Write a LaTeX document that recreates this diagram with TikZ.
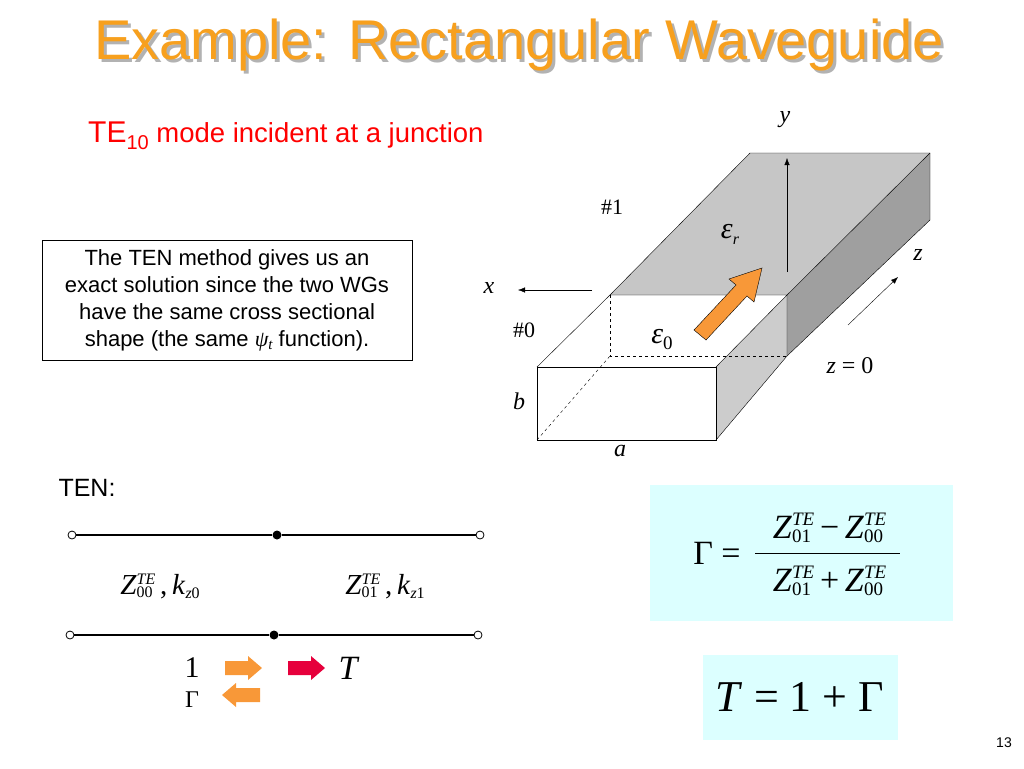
\documentclass[tikz,border=0pt]{standalone}
\usepackage{fontspec}
\setsansfont{Liberation Sans}
\setmainfont{Liberation Serif}
\usetikzlibrary{arrows.meta}
\definecolor{ttl}{RGB}{247,160,30}
\definecolor{org}{RGB}{248,152,56}
\definecolor{cy}{RGB}{220,255,255}
\definecolor{rd}{RGB}{230,0,60}
\newcommand\Zs[3]{\textit{Z}\rlap{\raisebox{#3pt}{\fontsize{#2}{#2}\selectfont\textit{TE}}}\raisebox{-0.35\height}{\fontsize{#2}{#2}\selectfont #1}}
\begin{document}
\begin{tikzpicture}[x=1pt,y=-1pt,
  lbl/.style={font=\fontsize{24}{28}\selectfont\itshape},
  rm/.style={font=\fontsize{22}{26}\selectfont},
  bar/.style={line width=2.5pt},
  term/.style={circle,draw,fill=white,inner sep=0pt,minimum size=8pt,thick},
  dotn/.style={circle,fill,inner sep=0pt,minimum size=9pt}]
\useasboundingbox (0,0) rectangle (1024,768);
% title
\node[text=gray!60,font=\sffamily\fontsize{56}{60}\selectfont] at (522,48) {Example: Rectangular Waveguide};
\node (title)[text=ttl,font=\sffamily\fontsize{56}{60}\selectfont] at (519,45) {Example: Rectangular Waveguide};
\node (te)[anchor=west,text=red,font=\sffamily\fontsize{30}{32}\selectfont,inner sep=0pt] at (88,136) {TE\raisebox{-7pt}{\fontsize{20}{20}\selectfont 10}\fontsize{27.5}{30}\selectfont{} mode incident at a junction};
% text box
\node (box)[draw,thin,align=center,font=\sffamily\fontsize{22}{27}\selectfont,minimum width=370pt,minimum height=120pt,inner sep=0pt] at (227,300)
 {The TEN method gives us an\\exact solution since the two WGs\\have the same cross sectional\\shape (the same \textit{\fontspec{Liberation Serif}ψ\raisebox{-3pt}{\fontsize{15}{15}\selectfont t}} function).};
% waveguide
\fill[gray!45] (610,295)--(787,295)--(930,153)--(750,153)--cycle;
\fill[gray!75] (787,295)--(930,153)--(930,220)--(787,356)--cycle;
\fill[gray!40] (716,367)--(787,295)--(787,356)--(716,440)--cycle;
\draw (610,295)--(750,153)--(930,153)--(930,220)--(787,356);
\draw (787,295)--(930,153);
\draw (537,367)--(610,295)--(787,295)--(716,367);
\draw (537,367) rectangle (716,440);
\draw (716,440)--(787,356)--(787,295);
\draw[dashed] (610,295)--(610,356)--(787,356);
\draw[dashed] (537,440)--(610,356);
\coordinate (y0) at (787,272); \coordinate (y1) at (787,158);
\draw[-{Latex[length=7pt]}] (y0)--(y1);
\coordinate (x0) at (592,290); \coordinate (x1) at (518,290);
\draw[-{Latex[length=7pt]}] (x0)--(x1);
\coordinate (z0) at (848,325); \coordinate (z1) at (898,277);
\draw[-{Latex[length=7pt]}] (z0)--(z1);
\draw[fill=org] (694,330)--(736,285)--(729,279)--(762,268)--(754,302)--(747,296)--(706,340)--cycle;
\node[lbl] at (785,120) {y};
\node[rm] at (612,207) {\#1};
\node[font=\fontsize{30}{34}\selectfont] at (730,234) {\textit{ε}\raisebox{-6pt}{\fontsize{16}{16}\selectfont\textit{r}}};
\node[lbl] at (918,255) {z};
\node[lbl] at (489,288) {x};
\node[rm] at (524,330) {\#0};
\node[font=\fontsize{30}{34}\selectfont] at (662,340) {\textit{ε}\raisebox{-6pt}{\fontsize{19}{19}\selectfont 0}};
\node[font=\fontsize{24}{28}\selectfont] at (850,366) {\textit{z} = 0};
\node[lbl] at (519,401) {b};
\node[lbl] at (620,451) {a};
% TEN
\node[font=\sffamily\fontsize{25}{28}\selectfont,anchor=west] (ten) at (55,488) {TEN:};
\node[term] (a1) at (72,535) {}; \node[dotn] (a2) at (277,535) {}; \node[term] (a3) at (480,535) {};
\node[term] (b1) at (70,635) {}; \node[dotn] (b2) at (274,635) {}; \node[term] (b3) at (478,635) {};
\draw[bar] (a1)--(a2)--(a3); \draw[bar] (b1)--(b2)--(b3);
\node[font=\fontsize{29}{30}\selectfont] at (160,586) {\Zs{00\,}{16}{10}\,,\,\textit{k}\raisebox{-4pt}{\fontsize{16}{16}\selectfont\textit{z}0}};
\node[font=\fontsize{29}{30}\selectfont] at (385,586) {\Zs{01\,}{16}{10}\,,\,\textit{k}\raisebox{-4pt}{\fontsize{16}{16}\selectfont\textit{z}1}};
\node[font=\fontsize{30}{34}\selectfont] at (192,668) {1};
\node[font=\fontsize{24}{28}\selectfont] at (192,700) {Γ};
\fill[org] (225,661)--(248,661)--(248,656)--(262,668)--(248,680)--(248,675)--(225,675)--cycle;
\fill[org] (260,688)--(236,688)--(236,683)--(222,695)--(236,707)--(236,702)--(260,702)--cycle;
\fill[rd] (288,661)--(311,661)--(311,656)--(325,668)--(311,680)--(311,675)--(288,675)--cycle;
\node[font=\fontsize{34}{38}\selectfont\itshape] at (348,668) {T};
% formula boxes
\node[fill=cy,minimum width=303pt,minimum height=136pt] (g) at (801,553) {};
\node[font=\fontsize{34}{38}\selectfont] (gam) at (717,553) {Γ =};
\node[font=\fontsize{34}{38}\selectfont] (num) at (828,528) {\Zs{01\,}{19}{13}\,−\,\Zs{00}{19}{13}};
\node[font=\fontsize{34}{38}\selectfont] (den) at (828,581) {\Zs{01\,}{19}{13}\,+\,\Zs{00}{19}{13}};
\draw[thick] (755,553)--(900,553);
\node[fill=cy,minimum width=195pt,minimum height=85pt,font=\fontsize{44}{48}\selectfont] (t) at (800,697) {\textit{T} = 1 + Γ};
\node[font=\sffamily\fontsize{14}{16}\selectfont] at (1004,743) {13};
\end{tikzpicture}
\end{document}
